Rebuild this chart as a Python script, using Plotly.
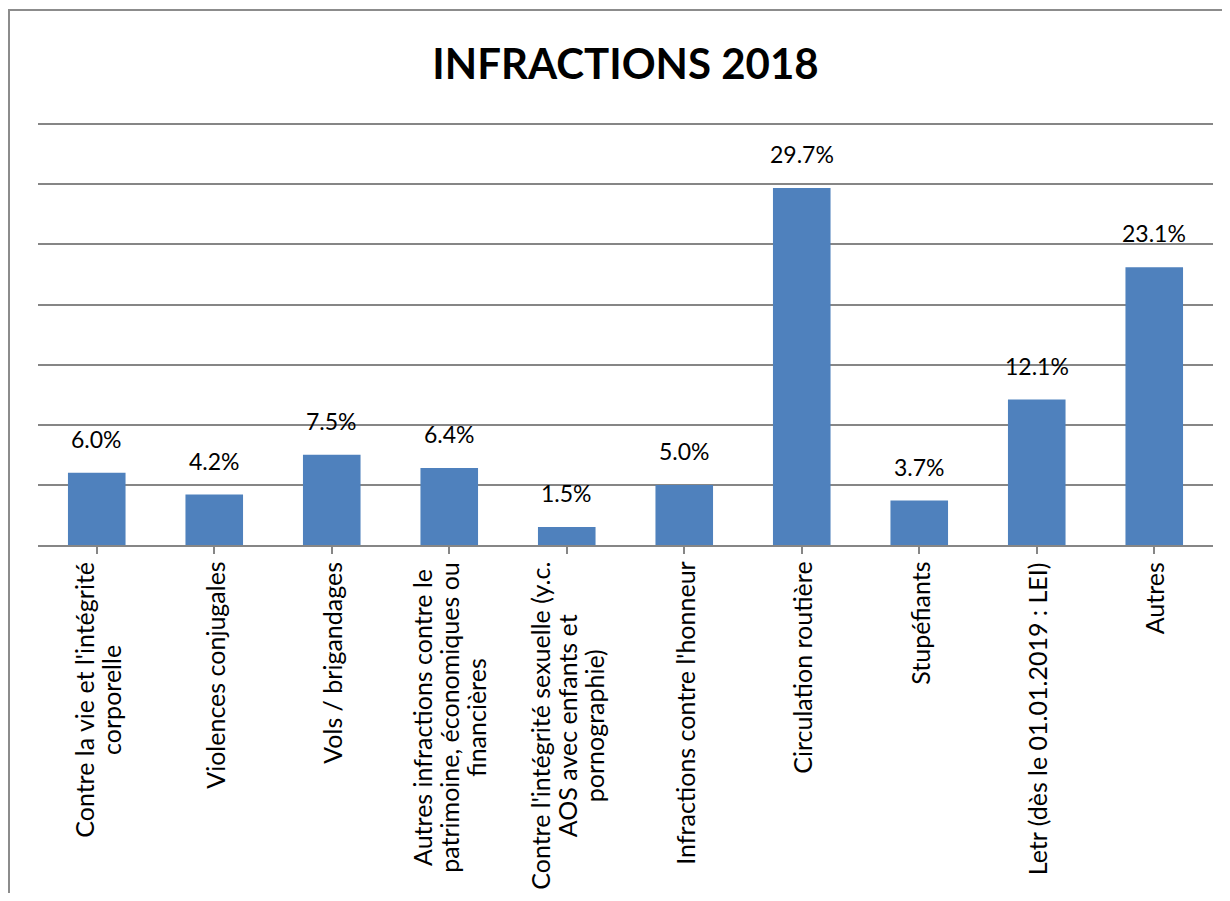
import plotly.graph_objects as go

# ---- data ----
categories = [
    "Contre la vie et l'intégrité<br>corporelle",
    "Violences conjugales",
    "Vols / brigandages",
    "Autres infractions contre le<br>patrimoine, économiques ou<br>financières",
    "Contre l'intégrité sexuelle (y.c.<br>AOS avec enfants et<br>pornographie)",
    "Infractions contre l'honneur",
    "Circulation routière",
    "Stupéfiants",
    "Letr (dès le 01.01.2019 : LEI)",
    "Autres",
]
values = [6.0, 4.2, 7.5, 6.4, 1.5, 5.0, 29.7, 3.7, 12.1, 23.1]
title_text = "INFRACTIONS 2018"

# ---- layout constants (page body has an 8px margin) ----
W, H = 1214, 885
ML, MR, MT, MB = 30, 9, 112, 348
GRID = "#868686"
FONT = "Lato"
YMAX = 35.35

fig = go.Figure()
fig.add_trace(go.Bar(
    x=list(range(len(categories))),
    y=values,
    marker=dict(color="#4F81BD", line=dict(width=0)),
    hoverinfo="skip",
))

annotations = []
for i, (c, v) in enumerate(zip(categories, values)):
    annotations.append(dict(
        x=i, y=v, xref="x", yref="y", text=f"{v:.1f}%",
        showarrow=False, yanchor="bottom", xanchor="center", yshift=18,
        font=dict(family=FONT, size=23, color="black"),
    ))
    lines = c.split("<br>")
    styled = "<br>".join(f'<span style="font-size:25px">{ln}</span>' for ln in lines)
    annotations.append(dict(
        x=i, y=0, xref="x", yref="y", text=styled,
        showarrow=False, yanchor="top", xanchor="center", yshift=-15,
        textangle=-90, align="center",
        font=dict(family=FONT, size=21, color="black"),
    ))

pw = W - ML - MR
ph = H - MT - MB
border = dict(
    type="rect", xref="paper", yref="paper",
    x0=(1 - ML) / pw, x1=(W + 20 - ML) / pw,
    y0=-(MB + 20) / ph, y1=(ph + MT - 2) / ph,
    line=dict(color="#8c8c8c", width=2), fillcolor="rgba(0,0,0,0)",
    layer="below",
)

fig.update_layout(
    width=W, height=H,
    margin=dict(l=ML, r=MR, t=MT, b=MB, pad=0),
    paper_bgcolor="white", plot_bgcolor="white",
    showlegend=False,
    bargap=0.51,
    title=dict(text=f"<b>{title_text}</b>", x=0.5, xref="paper", xanchor="center",
               y=1 - 56 / H, yref="container", yanchor="middle",
               font=dict(family=FONT, size=42, color="black")),
    xaxis=dict(
        range=[-0.5, len(categories) - 0.5],
        showticklabels=False, showgrid=False, zeroline=False,
        showline=True, linecolor=GRID, linewidth=1.5,
        ticks="outside", tickson="boundaries", ticklen=7,
        tickcolor=GRID, tickwidth=1.5,
        tickmode="linear", tick0=0, dtick=1,
    ),
    yaxis=dict(
        range=[0, YMAX], dtick=5, tick0=0,
        showticklabels=False, showgrid=True, gridcolor=GRID, gridwidth=1.5,
        zeroline=False, showline=False, ticks="",
    ),
    annotations=annotations,
    shapes=[border],
)

fig.write_html("out.html")
